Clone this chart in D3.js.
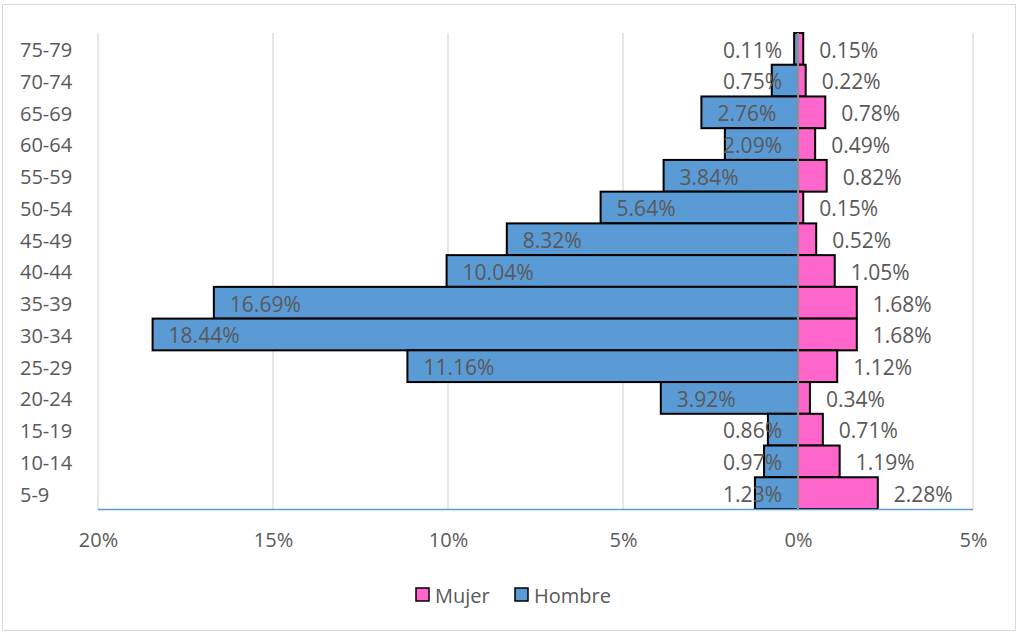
<!DOCTYPE html>
<html>
<head>
<meta charset="utf-8">
<script src="https://cdn.jsdelivr.net/npm/d3@7"></script>
<style>
  html, body { margin: 0; padding: 0; background: #fff; }
  svg { display: block; font-family: "Open Sans", sans-serif; }
</style>
</head>
<body>
<svg id="chart" width="1018" height="633"></svg>
<script>
const categories = ["75-79","70-74","65-69","60-64","55-59","50-54","45-49","40-44","35-39","30-34","25-29","20-24","15-19","10-14","5-9"];
const hombre = [0.11, 0.75, 2.76, 2.09, 3.84, 5.64, 8.32, 10.04, 16.69, 18.44, 11.16, 3.92, 0.86, 0.97, 1.23];
const mujer  = [0.15, 0.22, 0.78, 0.49, 0.82, 0.15, 0.52, 1.05, 1.68, 1.68, 1.12, 0.34, 0.71, 1.19, 2.28];
const tickValues = [-20, -15, -10, -5, 0, 5];
const tickLabels = ["20%", "15%", "10%", "5%", "0%", "5%"];
const seriesNames = ["Mujer", "Hombre"];

const colors = { Mujer: "#FF66CC", Hombre: "#5B9BD5" };
const textColor = "#595959";

const svg = d3.select("#chart");

// chart border
svg.append("rect").attr("x", 2.5).attr("y", 4.5).attr("width", 1013).attr("height", 626)
  .attr("fill", "#fff").attr("stroke", "#D9D9D9").attr("stroke-width", 1);

const x = d3.scaleLinear().domain([-20, 5]).range([98, 973]);
const y = d3.scaleBand().domain(categories).range([33, 509]).padding(0);

// gridlines
svg.append("g").selectAll("line").data(tickValues.filter(v => v !== 0)).join("line")
  .attr("x1", d => x(d)).attr("x2", d => x(d))
  .attr("y1", 33).attr("y2", 509)
  .attr("stroke", "#D9D9D9").attr("stroke-width", 1.3);

// bars
const rows = categories.map((c, i) => ({ c, h: hombre[i], m: mujer[i] }));
const gBars = svg.append("g");
gBars.selectAll("rect.h").data(rows).join("rect").attr("class", "h")
  .attr("x", d => x(-d.h)).attr("width", d => x(0) - x(-d.h))
  .attr("y", d => y(d.c)).attr("height", y.bandwidth())
  .attr("fill", colors.Hombre).attr("stroke", "#000").attr("stroke-width", 2);
gBars.selectAll("rect.m").data(rows).join("rect").attr("class", "m")
  .attr("x", x(0)).attr("width", d => x(d.m) - x(0))
  .attr("y", d => y(d.c)).attr("height", y.bandwidth())
  .attr("fill", colors.Mujer).attr("stroke", "#000").attr("stroke-width", 2);

// zero axis line (category axis)
svg.append("line").attr("x1", x(0)).attr("x2", x(0)).attr("y1", 33).attr("y2", 509)
  .attr("stroke", "#BFBFBF").attr("stroke-width", 1.5);

// bottom axis line
svg.append("line").attr("x1", 98).attr("x2", 973).attr("y1", 509.5).attr("y2", 509.5)
  .attr("stroke", "#5B9BD5").attr("stroke-width", 1.5);

// x axis
const xAxis = d3.axisBottom(x).tickValues(tickValues)
  .tickFormat((d, i) => tickLabels[i]).tickSize(0).tickPadding(0);
const gx = svg.append("g").attr("transform", "translate(0,532)").call(xAxis);
gx.select(".domain").remove();
gx.selectAll("text").attr("font-size", 20).attr("fill", textColor)
  .attr("font-family", "'Open Sans', sans-serif").attr("dy", "0.74em");

// y axis
const yAxis = d3.axisLeft(y).tickSize(0).tickPadding(0);
const gy = svg.append("g").attr("transform", "translate(20,0)").call(yAxis);
gy.select(".domain").remove();
gy.selectAll("text").attr("font-size", 20).attr("fill", textColor)
  .attr("text-anchor", "start").attr("font-family", "'Open Sans', sans-serif")
  .attr("dy", "0.42em");

// data labels
const fmt = v => v.toFixed(2) + "%";
const gL = svg.append("g").attr("font-size", 21).attr("fill", textColor);
gL.selectAll("text.h").data(rows).join("text").attr("class", "h")
  .attr("y", d => y(d.c) + y.bandwidth() / 2).attr("dy", "0.42em")
  .text(d => fmt(d.h))
  .each(function(d) {
    const w = this.getComputedTextLength();
    let sx = x(-d.h) + 16;
    if (sx + w > x(0) - 16) sx = x(0) - 16 - w;
    d3.select(this).attr("x", sx);
  });
gL.selectAll("text.m").data(rows).join("text").attr("class", "m")
  .attr("x", d => x(d.m) + 16)
  .attr("y", d => y(d.c) + y.bandwidth() / 2).attr("dy", "0.42em")
  .text(d => fmt(d.m));

// legend
const legend = svg.append("g");
const legendX = [416, 515];
seriesNames.forEach((s, i) => {
  legend.append("rect").attr("x", legendX[i]).attr("y", 588).attr("width", 13).attr("height", 13)
    .attr("fill", colors[s]).attr("stroke", "#000").attr("stroke-width", 1.5);
  legend.append("text").attr("x", legendX[i] + 19).attr("y", 595).attr("dy", "0.38em")
    .attr("font-size", 20).attr("fill", textColor).text(s);
});
</script>
</body>
</html>
